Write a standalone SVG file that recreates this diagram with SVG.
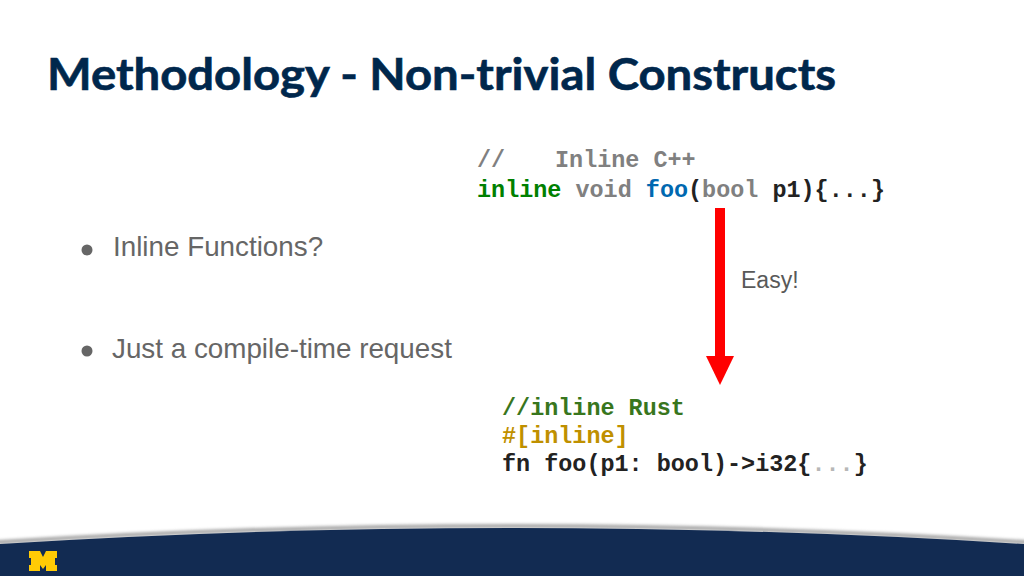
<svg xmlns="http://www.w3.org/2000/svg" width="1024" height="576" viewBox="0 0 1024 576">
<defs>
<filter id="blur" filterUnits="userSpaceOnUse" x="-40" y="500" width="1104" height="60"><feGaussianBlur stdDeviation="1.6"/></filter>
<marker id="head" markerUnits="userSpaceOnUse" markerWidth="29" markerHeight="29" refX="0" refY="14.5" orient="auto"><path d="M0 0.5L29 14.5L0 28.5Z" fill="#ff0000"/></marker>
</defs>
<style>
text{white-space:pre}
.title{font-family:"Lato","Open Sans",sans-serif;font-weight:700;font-size:44px;fill:#00274c;stroke:#00274c;stroke-width:0.6px}
.body{font-family:"Liberation Sans",Arial,sans-serif;font-size:27.8px;fill:#666666}
.code{font-family:"Liberation Mono","Courier New",monospace;font-weight:700;font-size:23.45px;fill:#222222}
.gr{fill:#808080}.grn{fill:#008000}.blu{fill:#0068b0}.rg{fill:#38761d}.yl{fill:#bf9000}.lg{fill:#b7b7b7}
.easy{font-family:"Liberation Sans",Arial,sans-serif;font-size:23px;fill:#595959}
</style>
<rect width="1024" height="576" fill="#ffffff"/>
<g id="footer">
<path d="M-30 546Q512 510 1054 546" fill="none" stroke="#a8a8a8" stroke-width="4" filter="url(#blur)" transform="translate(0 -2)"/>
<path d="M0 544Q512 512 1024 544V576H0Z" fill="#122b52"/>
<path d="M29 551H40L43 557L46 551H57V558H55V565H57V571H46V565L43 569L40 565V571H29V565H31V558H29Z" fill="#ffcb05"/>
</g>
<g id="title"><text class="title" x="47" y="90" textLength="789" lengthAdjust="spacingAndGlyphs">Methodology - Non-trivial Constructs</text></g>
<g id="bullets">
<circle cx="87" cy="250" r="5.5" fill="#666666"/>
<text class="body" x="113" y="256">Inline Functions?</text>
<circle cx="87" cy="351" r="5.5" fill="#666666"/>
<text class="body" x="112" y="358">Just a compile-time request</text>
</g>
<g id="cpp-code">
<text class="code gr" x="477" y="167">//<tspan x="555">Inline C++</tspan></text>
<text class="code" x="477" y="197"><tspan class="grn">inline</tspan> <tspan class="gr">void</tspan> <tspan class="blu">foo</tspan>(<tspan class="gr">bool</tspan> p1){...}</text>
</g>
<g id="connectors"><line x1="720" y1="208" x2="720" y2="356" stroke="#ff0000" stroke-width="10" marker-end="url(#head)"/></g>
<g id="easy-label"><text class="easy" x="741" y="288">Easy!</text></g>
<g id="rust-code">
<text class="code rg" x="502" y="414.5">//inline Rust</text>
<text class="code yl" x="502" y="442.5">#[inline]</text>
<text class="code" x="502" y="470.5">fn foo(p1: bool)-&gt;i32{<tspan class="lg">...</tspan>}</text>
</g>
</svg>
